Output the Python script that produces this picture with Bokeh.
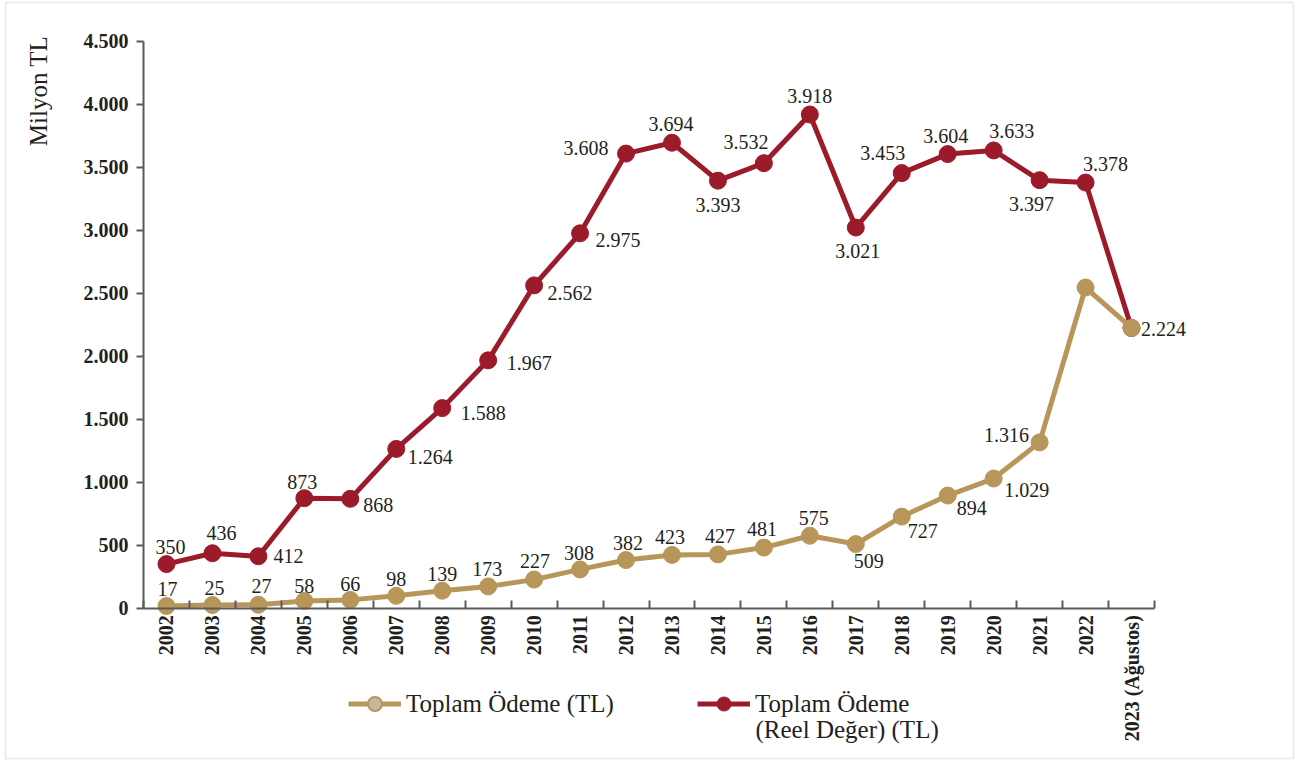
import math
from bokeh.plotting import figure
from bokeh.models import (ColumnDataSource, FixedTicker, Legend, LegendItem, Label,
                          BoxAnnotation, Range1d, LinearAxis)
from bokeh.core.properties import value
from bokeh.embed import file_html
from bokeh.resources import INLINE

# ---------------- data ----------------
years = ["2002", "2003", "2004", "2005", "2006", "2007", "2008", "2009", "2010", "2011",
         "2012", "2013", "2014", "2015", "2016", "2017", "2018", "2019", "2020", "2021",
         "2022", "2023 (Ağustos)"]
nominal = [17, 25, 27, 58, 66, 98, 139, 173, 227, 308, 382, 423, 427, 481, 575, 509,
           727, 894, 1029, 1316, 2545, 2224]
real = [350, 436, 412, 873, 868, 1264, 1588, 1967, 2562, 2975, 3608, 3694, 3393, 3532,
        3918, 3021, 3453, 3604, 3633, 3397, 3378, 2224]
y_ticks = [0, 500, 1000, 1500, 2000, 2500, 3000, 3500, 4000, 4500]
series_names = ["Toplam Ödeme (TL)", "Toplam Ödeme", "(Reel Değer) (TL)"]
y_title = "Milyon TL"

# label placement (screen px offsets from each point)
real_dx = [4, 9, 30, -2, 28, 34, 41, 41, 36, 38, -40, -1, 0, -18, 0, 2, -19, -2, 18, -8, 20, 32]
real_dy = [-17, -20, 0, -16, 6, 8, 5, 3, 8, 7, -6, -19, 24, -21, -19, 23, -20, -18, -19, 24, -19, 1]
nom_dx = [1, 2, 3, 0, 0, 0, 0, -1, 1, -1, 2, -2, 2, -2, 4, 13, 21, 24, 33, -33]
nom_dy = [-17, -17, -19, -15, -16, -17, -17, -17, -19, -16, -17, -18, -18, -19, -18, 17, 14, 12, 11, -7]

RED = "#9b1b2a"
GOLD = "#b8965a"
GOLD_LIGHT = "#c9b99c"
TXT = "#231f20"
AXC = "#5a5a5a"
FONT = "Liberation Serif"

# ---------------- layout (pixels) ----------------
W, H = 1300, 760
PL, PR, PT, PB = 143.0, 1154.0, 40.7, 607.7   # plot area edges
n = len(years)
YMAX = y_ticks[-1]
ux = (PR - PL) / n                 # px per category
uy = (PB - PT) / YMAX              # px per unit
x_start = -0.5 - PL / ux
x_end = n - 0.5 + (W - PR) / ux
y_start = -(H - PB) / uy
y_end = YMAX + PT / uy


def fmt(v):
    return f"{v:,}".replace(",", ".")


xs = list(range(n))

p = figure(width=W, height=H,
           x_range=Range1d(x_start, x_end), y_range=Range1d(y_start, y_end),
           x_axis_location=None, y_axis_location=None,
           output_backend="svg", toolbar_location=None,
           min_border_left=0, min_border_right=0, min_border_top=0, min_border_bottom=0)
p.xgrid.visible = False
p.ygrid.visible = False
p.outline_line_color = None
p.background_fill_color = "white"
p.border_fill_color = "white"

# ---------------- axes ----------------
ya = LinearAxis(fixed_location=-0.5, bounds=(0, YMAX))
ya.ticker = FixedTicker(ticks=y_ticks, minor_ticks=[])
ya.major_label_overrides = {t: fmt(t) for t in y_ticks}
ya.major_label_text_font = FONT
ya.major_label_text_font_style = "bold"
ya.major_label_text_font_size = "20px"
ya.major_label_text_color = TXT
ya.major_tick_in = 0
ya.major_tick_out = 7
ya.major_label_standoff = 8
ya.axis_line_color = AXC
ya.axis_line_width = 2
ya.major_tick_line_color = AXC
ya.major_tick_line_width = 2
p.add_layout(ya, "left")

xa = LinearAxis(fixed_location=0, bounds=(-0.5, n - 0.5))
xa.ticker = FixedTicker(ticks=xs, minor_ticks=[i - 0.5 for i in range(n + 1)])
xa.major_label_overrides = {i: years[i] for i in xs}
xa.major_label_orientation = math.pi / 2
xa.major_label_text_font = FONT
xa.major_label_text_font_style = "bold"
xa.major_label_text_font_size = "20px"
xa.major_label_text_color = TXT
xa.major_tick_line_color = None
xa.major_tick_in = 0
xa.major_tick_out = 0
xa.minor_tick_in = 8
xa.minor_tick_out = 0
xa.minor_tick_line_color = AXC
xa.minor_tick_line_width = 2
xa.major_label_standoff = 7
xa.axis_line_color = AXC
xa.axis_line_width = 2
p.add_layout(xa, "below")

# ---------------- series ----------------
src = ColumnDataSource(dict(x=xs, real=real, nominal=nominal))
r_line = p.line("x", "real", source=src, line_color=RED, line_width=5, line_join="round")
r_pts = p.scatter("x", "real", source=src, size=17, fill_color=RED, line_color=RED)
# legend-only marker style for the nominal series (hidden under the real markers)
n_leg = p.scatter("x", "nominal", source=ColumnDataSource(dict(x=xs[:1], nominal=nominal[:1])),
                  size=14, fill_color=GOLD_LIGHT, line_color=GOLD, line_width=2)
n_line = p.line("x", "nominal", source=src, line_color=GOLD, line_width=5, line_join="round")
n_pts = p.scatter("x", "nominal", source=src, size=17, fill_color=GOLD, line_color=GOLD)

# ---------------- value labels ----------------
rsrc = ColumnDataSource(dict(x=xs, y=real, t=[fmt(v) for v in real], dx=real_dx, dy=real_dy))
p.text("x", "y", text="t", source=rsrc, x_offset="dx", y_offset="dy",
       text_align="center", text_baseline="middle",
       text_font=value(FONT), text_font_size="20px", text_color=TXT)
n_lab = len(nom_dx)
nsrc = ColumnDataSource(dict(x=xs[:n_lab], y=nominal[:n_lab],
                             t=[fmt(v) for v in nominal[:n_lab]], dx=nom_dx, dy=nom_dy))
p.text("x", "y", text="t", source=nsrc, x_offset="dx", y_offset="dy",
       text_align="center", text_baseline="middle",
       text_font=value(FONT), text_font_size="20px", text_color=TXT)


# ---------------- legends ----------------
def make_legend(label, rends, loc):
    lg = Legend(items=[LegendItem(label=label, renderers=rends, index=0)], location=loc,
                orientation="horizontal", glyph_width=53, glyph_height=35,
                label_standoff=5, padding=0, margin=0, spacing=0,
                border_line_color=None, background_fill_alpha=0,
                label_text_font=FONT, label_text_font_size="25px", label_text_color=TXT)
    p.add_layout(lg)
    return lg


make_legend(series_names[0], [n_line, n_leg], (348, 39))
make_legend(series_names[1], [r_line, r_pts], (697, 39))

p.add_layout(Label(x=755, y=31, x_units="screen", y_units="screen", text=series_names[2],
                   text_font=FONT, text_font_size="25px", text_color=TXT,
                   text_align="left", text_baseline="middle"))

p.add_layout(Label(x=38, y=H - 90.5, x_units="screen", y_units="screen", text=y_title,
                   angle=math.pi / 2, text_font=FONT, text_font_size="25px", text_color=TXT,
                   text_align="center", text_baseline="middle"))

# ---------------- outer border ----------------
p.add_layout(BoxAnnotation(left=5, right=1293, top=H - 2, bottom=2,
                           left_units="screen", right_units="screen",
                           top_units="screen", bottom_units="screen",
                           fill_alpha=0, line_color="#c4c4c4", line_width=2))

open("out.html", "w").write(file_html(p, INLINE))
